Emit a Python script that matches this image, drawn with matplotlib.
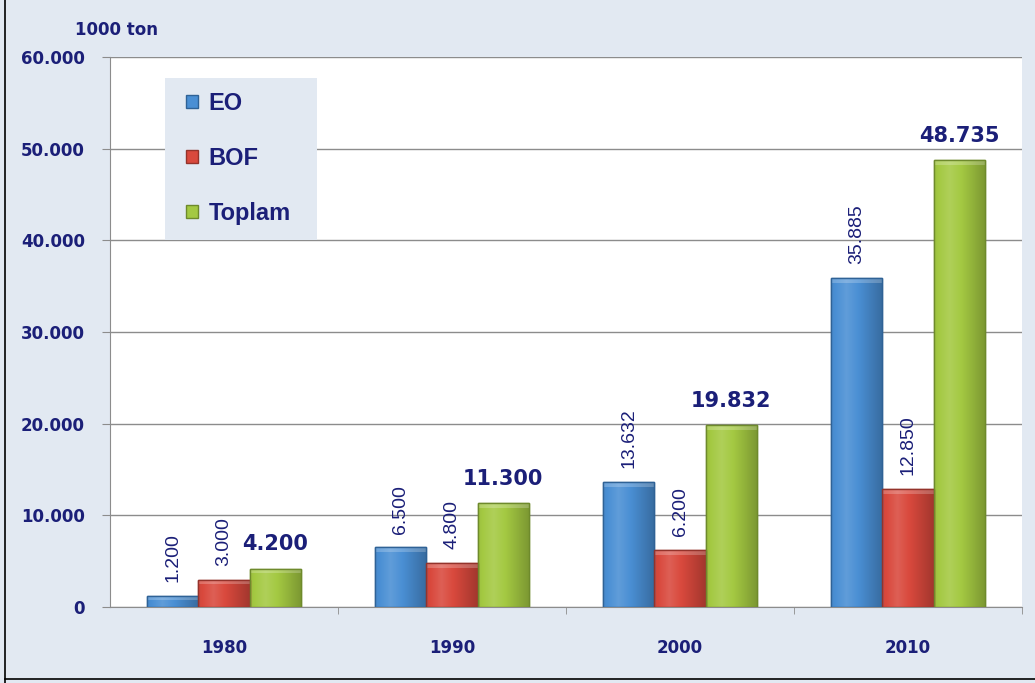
import matplotlib
matplotlib.use("Agg")
import matplotlib.pyplot as plt
import numpy as np
from matplotlib.patches import Rectangle
from matplotlib.colors import to_rgb

years = ["1980", "1990", "2000", "2010"]
eo = [1200, 6500, 13632, 35885]
bof = [3000, 4800, 6200, 12850]
toplam = [4200, 11300, 19832, 48735]
yticks = [0, 10000, 20000, 30000, 40000, 50000, 60000]
ytick_labels = ["0", "10.000", "20.000", "30.000", "40.000", "50.000", "60.000"]

def fmt(v):
    return f"{v:,}".replace(",", ".")

NAVY = "#1b1f78"
BG = "#e2e9f2"
colors = ["#4a8fd4", "#d9493d", "#a4c942"]
edges = ["#2f6296", "#94332b", "#6e8a2c"]
names = ["EO", "BOF", "Toplam"]

plt.rcParams["font.family"] = ["Liberation Sans", "DejaVu Sans"]

fig = plt.figure(figsize=(10.35, 6.83), dpi=100)
fig.patch.set_facecolor(BG)
ax = fig.add_axes([110 / 1035, 1 - 607 / 683, 912 / 1035, 550 / 683])
ax.set_facecolor("white")

x = np.arange(len(years))
w = 0.224
series = [eo, bof, toplam]

def shade(c, f):
    r = np.array(to_rgb(c))
    if f >= 0:
        return r + (1 - r) * f
    return r * (1 + f)

for i, (s, c, e) in enumerate(zip(series, colors, edges)):
    b = ax.bar(x + (i - 1) * w, s, width=w, color=c, edgecolor=e, linewidth=1.0,
               label=names[i], zorder=3)
    # horizontal gradient fill and top bevel
    prof = np.concatenate([np.linspace(-0.05, 0.12, 30), np.linspace(0.12, -0.25, 70)])
    grad = np.array([shade(c, f) for f in prof])[None, :, :]
    for rect in b:
        x0, wd, h = rect.get_x(), rect.get_width(), rect.get_height()
        im = ax.imshow(grad, extent=(x0, x0 + wd, 0, h), aspect="auto", zorder=3.5,
                       interpolation="bilinear")
        im.set_clip_path(rect)
        bev = min(500, h * 0.4)
        ax.add_patch(Rectangle((x0, h - bev), wd, bev, facecolor="white", alpha=0.22,
                               linewidth=0, zorder=3.6))
        ax.add_patch(Rectangle((x0, 0), wd, h, facecolor="none", edgecolor=e,
                               linewidth=1.0, zorder=3.7))

for i, s in enumerate([eo, bof]):
    for xi, v in zip(x, s):
        ax.text(xi + (i - 1) * w, v + 1500, fmt(v), rotation=90, ha="center", va="bottom",
                fontsize=14, color=NAVY, zorder=5)
for xi, v in zip(x, toplam):
    ax.text(xi + w, v + 1600, fmt(v), ha="center", va="bottom", fontsize=15,
            fontweight="bold", color=NAVY, family="DejaVu Sans", zorder=5)

ax.set_ylim(0, 60000)
ax.set_xlim(-0.5, 3.5)
ax.set_yticks(yticks)
ax.set_yticklabels(ytick_labels, fontsize=12, fontweight="bold", color=NAVY,
                   family="DejaVu Sans")
ax.set_xticks(x)
ax.set_xticklabels(years, fontsize=12, fontweight="bold", color=NAVY,
                   family="DejaVu Sans")
ax.tick_params(axis="x", length=0, pad=23)
ax.tick_params(axis="y", length=6, color="#8c8c8c", pad=12)
ax.set_xticks(np.arange(0.5, 4.0, 1.0), minor=True)
ax.tick_params(axis="x", which="minor", length=5, color="#8c8c8c", direction="out")
ax.yaxis.grid(True, color="#8c8c8c", linewidth=1.0, zorder=0)
ax.set_axisbelow(True)
for sp in ["top", "right"]:
    ax.spines[sp].set_visible(False)
ax.spines["left"].set_color("#8c8c8c")
ax.spines["bottom"].set_color("#8c8c8c")

# legend background box
ax.add_patch(Rectangle(((165 - 110) / 912, (607 - 240) / 550), 152 / 912, 162 / 550,
                       transform=ax.transAxes, facecolor=BG, edgecolor="none", zorder=2))
leg = ax.legend(loc="upper left", bbox_to_anchor=((186 - 110) / 912, (607 - 92) / 550),
                frameon=False, handlelength=0.5, handleheight=0.5, handletextpad=0.45,
                labelspacing=1.35, borderpad=0, borderaxespad=0,
                prop={"size": 17, "weight": "bold"})
for t in leg.get_texts():
    t.set_color(NAVY)
leg.set_zorder(6)

fig.text(75 / 1035, 1 - 30 / 683, "1000 ton", fontsize=12, fontweight="bold", color=NAVY,
         ha="left", va="center", family="DejaVu Sans")

# figure border (left and bottom)
fig.add_artist(plt.Line2D([5 / 1035, 5 / 1035], [0, 1], color="black", linewidth=1.2,
                          transform=fig.transFigure))
fig.add_artist(plt.Line2D([5 / 1035, 1], [1 - 679 / 683, 1 - 679 / 683], color="black",
                          linewidth=1.2, transform=fig.transFigure))

fig.savefig("out.png", dpi=100, facecolor=fig.get_facecolor())
